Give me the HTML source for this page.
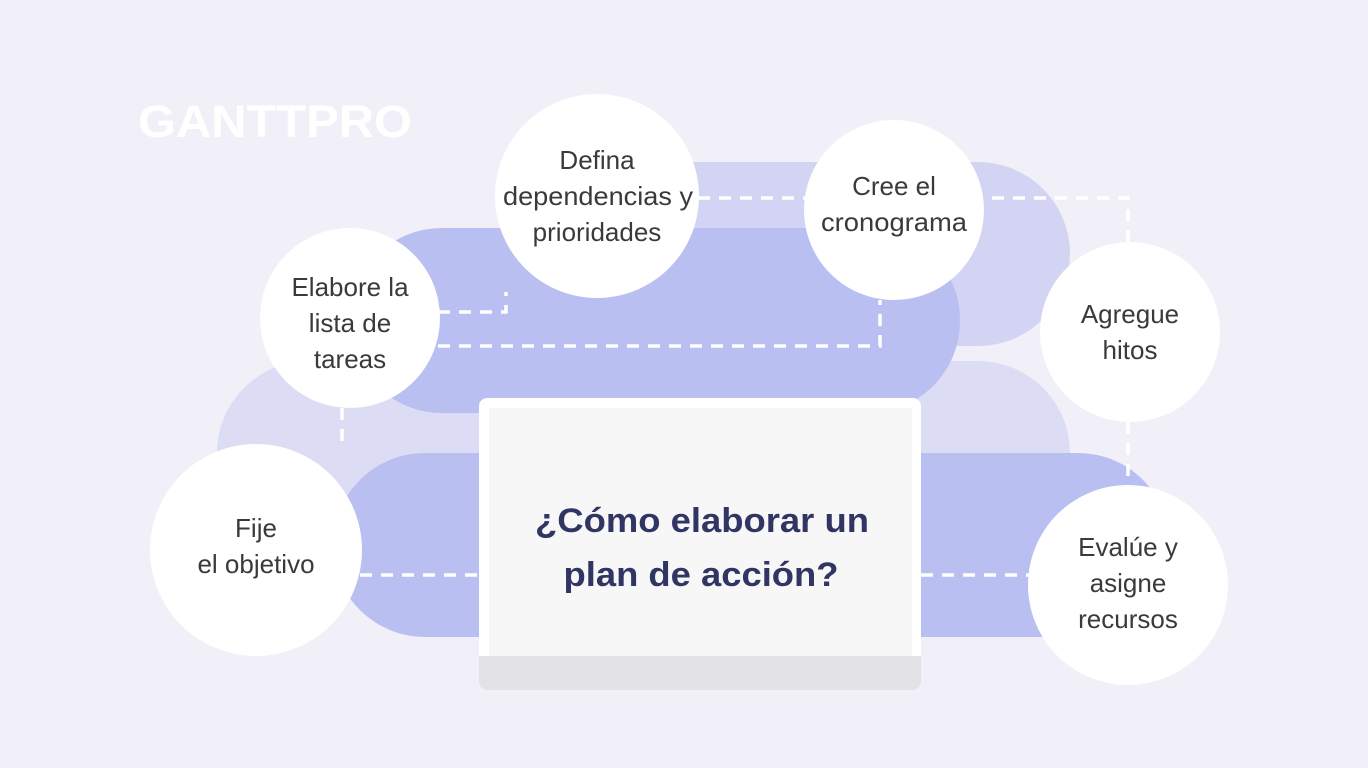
<!DOCTYPE html>
<html><head><meta charset="utf-8"><style>
html,body{margin:0;padding:0;background:#f1f0f9;}
svg{display:block}
</style></head><body>
<svg width="1368" height="768" viewBox="0 0 1368 768" xmlns="http://www.w3.org/2000/svg">
<rect width="1368" height="768" fill="#f1f0f9"/>
<text x="138" y="137" font-family="Liberation Sans, sans-serif" font-weight="bold" font-size="45" fill="#ffffff" textLength="274" lengthAdjust="spacingAndGlyphs">GANTTPRO</text>
<!-- pills -->
<rect x="560" y="162" width="510" height="184" rx="92" fill="#d3d4f3"/>
<rect x="217" y="361" width="853" height="184" rx="92" fill="#dcdcf5"/>
<rect x="350" y="228" width="610" height="185" rx="92" fill="#b9bff0"/>
<rect x="333" y="453" width="837" height="184" rx="92" fill="#b9bff0"/>
<!-- dashed connectors -->
<g stroke="#ffffff" stroke-width="3.5" fill="none" stroke-dasharray="12 9">
<path d="M438 312 H506 V292"/>
<path d="M438 346 H880 V300"/>
<path d="M698 198 H1128 V245"/>
<path d="M1128 422 V488"/>
<path d="M921 575 H1030"/>
<path d="M360 575 H483"/>
<path d="M342 408 V447"/>
</g>
<!-- card -->
<rect x="479" y="398" width="442" height="292" rx="8" fill="#ffffff"/>
<rect x="489" y="408" width="423" height="248" fill="#f7f7f8"/>
<path d="M479 656 H921 V682 a8 8 0 0 1 -8 8 H487 a8 8 0 0 1 -8 -8 Z" fill="#e3e3e5"/>
<g font-family="Liberation Sans, sans-serif" font-weight="bold" font-size="34" fill="#303563" text-anchor="middle">
<text x="702" y="532" textLength="334" lengthAdjust="spacingAndGlyphs">¿Cómo elaborar un</text>
<text x="701" y="586" textLength="275" lengthAdjust="spacingAndGlyphs">plan de acción?</text>
</g>
<!-- circles -->
<g fill="#ffffff">
<circle cx="597" cy="196" r="102"/>
<circle cx="894" cy="210" r="90"/>
<circle cx="350" cy="318" r="90"/>
<circle cx="1130" cy="332" r="90"/>
<circle cx="256" cy="550" r="106"/>
<circle cx="1128" cy="585" r="100"/>
</g>
<g font-family="Liberation Sans, sans-serif" font-size="26" fill="#3a3a3c" text-anchor="middle">
<text x="597" y="169">Defina</text>
<text x="598" y="205" textLength="190" lengthAdjust="spacingAndGlyphs">dependencias y</text>
<text x="597" y="241">prioridades</text>
<text x="894" y="195">Cree el</text>
<text x="894" y="231" textLength="146" lengthAdjust="spacingAndGlyphs">cronograma</text>
<text x="350" y="296">Elabore la</text>
<text x="350" y="332">lista de</text>
<text x="350" y="368">tareas</text>
<text x="1130" y="323">Agregue</text>
<text x="1130" y="359">hitos</text>
<text x="256" y="537">Fije</text>
<text x="256" y="573">el objetivo</text>
<text x="1128" y="556">Evalúe y</text>
<text x="1128" y="592">asigne</text>
<text x="1128" y="628">recursos</text>
</g>
</svg>
</body></html>
